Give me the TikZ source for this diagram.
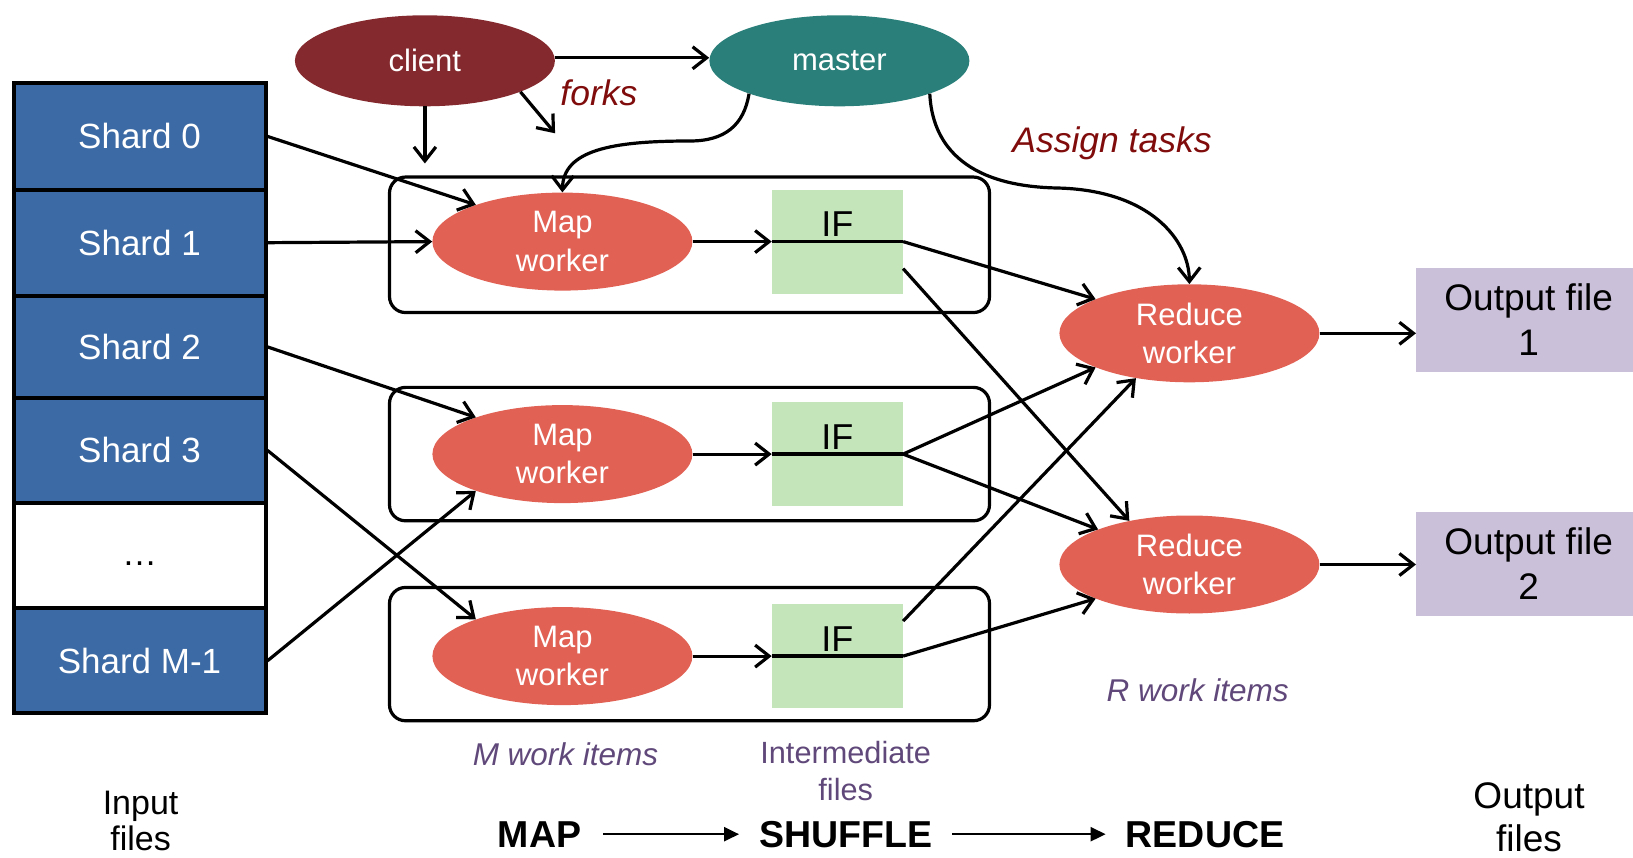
\documentclass[tikz,border=0pt]{standalone}
\usepackage{fontspec}
\setmainfont{Liberation Sans}
\usetikzlibrary{arrows.meta,shapes.geometric,calc}

\definecolor{shardblue}{RGB}{60,106,164}
\definecolor{clientred}{RGB}{132,42,46}
\definecolor{masterteal}{RGB}{42,127,122}
\definecolor{workerred}{RGB}{225,98,85}
\definecolor{ifgreen}{RGB}{196,228,186}
\definecolor{outpurple}{RGB}{203,192,218}
\definecolor{notered}{RGB}{128,12,12}
\definecolor{notepurple}{RGB}{96,73,122}

\newcommand{\setfs}[2]{\fontsize{#1}{#2}\selectfont}

\begin{document}
\begin{tikzpicture}[x=1pt,y=-1pt,
  flow/.style={line width=3.2pt,-{Straight Barb[length=14pt,width=22pt,line width=3.2pt]}},
  stage/.style={line width=2.2pt,-{Triangle[length=15pt,width=14pt]}},
  shardbox/.style={draw=black,line width=4pt,fill=shardblue,text=white,
    minimum width=252pt,inner sep=0pt,font=\setfs{35}{42}},
  mapbox/.style={draw=black,line width=3.2pt,rounded corners=16pt,
    minimum width=600pt,inner sep=0pt},
  worker/.style={ellipse,fill=workerred,text=white,minimum width=260pt,
    minimum height=98pt,inner sep=0pt,align=center,font=\setfs{31}{38.5}},
  boss/.style={ellipse,text=white,minimum width=260pt,minimum height=91pt,
    inner sep=0pt,font=\setfs{31}{36}},
  ifbox/.style={fill=ifgreen,minimum width=131pt,minimum height=104pt,inner sep=0pt},
  iftext/.style={anchor=south,inner sep=0pt,yshift=4.5pt,font=\setfs{36}{40}},
  outbox/.style={fill=outpurple,minimum width=225pt,minimum height=104pt,
    inner sep=0pt,align=center,font=\setfs{37}{44.8}},
  rednote/.style={text=notered,font=\setfs{35.5}{40}\itshape},
  purplenote/.style={text=notepurple,font=\setfs{31.5}{37.5}\itshape},
  caption/.style={align=center,inner sep=0pt},
  stagelabel/.style={inner sep=0pt,font=\setfs{37.5}{40}\bfseries}]

\path[use as bounding box] (0,0) rectangle (1633,858);
\clip (0,0) rectangle (1633,858);

% input shards
\node[shardbox,minimum height=106.3pt] (s0) at (139.5,136.4) {Shard 0};
\node[shardbox,minimum height=106.2pt] (s1) at (139.5,242.7) {Shard 1};
\node[shardbox,minimum height=102.1pt] (s2) at (139.5,346.9) {Shard 2};
\node[shardbox,minimum height=105.1pt] (s3) at (139.5,450.4) {Shard 3};
\node[shardbox,minimum height=105.2pt,fill=white,text=black,
  text height=19pt,text depth=0pt] (sd) at (139.5,555.6) {\dots};
\node[shardbox,minimum height=105.2pt] (sm) at (139.5,660.8) {Shard M-1};

% client and master
\node[boss,fill=clientred] (client) at (424.9,60.8) {client};
\node[boss,fill=masterteal] (master) at (839.4,60.8) {master};

% map task groups
\node[mapbox,minimum height=135.5pt] (g1) at (689.5,244.8) {};
\node[mapbox,minimum height=133.4pt] (g2) at (689.5,454.1) {};
\node[mapbox,minimum height=133.3pt] (g3) at (689.5,654.1) {};

\node[worker] (map1) at (562.4,241.6) {Map\\worker};
\node[worker] (map2) at (562.4,454.1) {Map\\worker};
\node[worker] (map3) at (562.4,656.1) {Map\\worker};

% intermediate files
\node[ifbox] (if1) at (837.4,241.6) {};
\node[ifbox] (if2) at (837.4,454.1) {};
\node[ifbox] (if3) at (837.4,656.1) {};
\node[iftext] (ift1) at (if1.center) {IF};
\node[iftext] (ift2) at (if2.center) {IF};
\node[iftext] (ift3) at (if3.center) {IF};
\foreach \i in {1,2,3}{
  \draw[line width=3.6pt] (if\i.west) -- (if\i.east);
  \draw[flow] (map\i.east) -- (if\i.west);
}

% reduce workers and outputs
\node[worker] (red1) at (1189.4,333.3) {Reduce\\worker};
\node[worker] (red2) at (1189.4,564.5) {Reduce\\worker};
\node[outbox] (out1) at (1528.7,319.8) {Output file\\1};
\node[outbox] (out2) at (1528.7,563.5) {Output file\\2};
\draw[flow] (red1.east) -- (red1.east -| out1.west);
\draw[flow] (red2.east) -- (red2.east -| out2.west);

% shards to map workers
\draw[flow] (s0.east) -- (map1.157);
\draw[flow] (s1.east) -- (map1.west);
\draw[flow] (s2.east) -- (map2.157);
\draw[flow] (s3.east) -- (map3.157);
\draw[flow] (sm.east) -- (map2.203);

% shuffle: intermediate files to reduce workers
\draw[flow] (if1.east) -- (red1.160);
\draw[flow] ([yshift=-27pt]if1.east) -- (red2.144);
\draw[flow] (if2.east) -- (red1.200);
\draw[flow] (if2.east) -- (red2.159);
\draw[flow] ([yshift=35pt]if3.east) -- (red1.220);
\draw[flow] (if3.east) -- (red2.200);

% client forks
\coordinate (fork1) at ($(client.south)+(0,57)$);
\coordinate (fork2) at (555.1,133.3);
\draw[flow] (client.south) -- (fork1);
\draw[flow] (client.-18) -- (fork2);
\draw[flow] ([yshift=3pt]client.east) -- ([yshift=3pt]master.west);
\node[rednote] (forks) at (598.9,92.5) {forks};

% master assigns tasks
\draw[flow] (master.200) .. controls (744,125) and (725,141) .. (690,141)
  .. controls (612,141) and (563,150) .. (map1.north);
\draw[flow] (master.340) .. controls (932,142) and (962,186) .. (1057,188)
  .. controls (1150,190) and (1189,240) .. (red1.north);
\node[rednote] (assign) at (1112,143.5) {Assign tasks};

% annotations
\node[purplenote] (mitems) at (565.5,754) {M work items};
\node[purplenote] (ritems) at (1197.7,690) {R work items};
\node[caption,text=notepurple,font=\setfs{30.7}{37.5}] (inter) at (845.7,771) {Intermediate\\files};
\node[caption,font=\setfs{34}{36.5}] (infiles) at (140.6,821) {Input\\files};
\node[caption,font=\setfs{37}{42.7}] (outfiles) at (1529,817) {Output\\files};

% phases
\node[stagelabel] (pmap) at (539.5,834.2) {MAP};
\node[stagelabel] (pshuf) at (845.7,834.2) {SHUFFLE};
\node[stagelabel] (pred) at (1205,834.2) {REDUCE};
\draw[stage,shorten <=22pt,shorten >=20pt] (pmap.east) -- (pshuf.west);
\draw[stage,shorten <=20pt,shorten >=20pt] (pshuf.east) -- (pred.west);
\end{tikzpicture}
\end{document}
